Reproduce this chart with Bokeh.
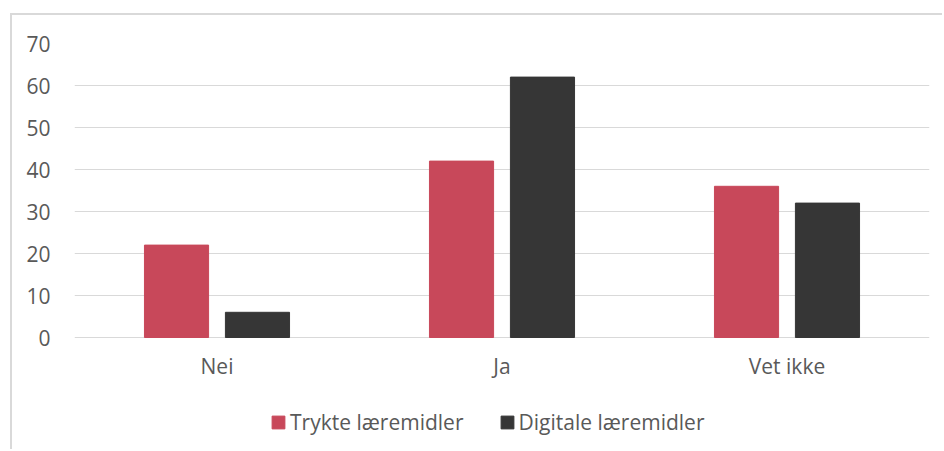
from bokeh.plotting import figure
from bokeh.models import ColumnDataSource, Legend, LegendItem
from bokeh.core.properties import value
from bokeh.transform import dodge
from bokeh.embed import file_html
from bokeh.resources import INLINE

categories = ["Nei", "Ja", "Vet ikke"]
series_names = ["Trykte læremidler", "Digitale læremidler"]
trykte = [22, 42, 36]
digitale = [6, 62, 32]
y_ticks = [0, 10, 20, 30, 40, 50, 60, 70]

RED = "#C8485A"
DARK = "#363636"
GRID = "#D9D9D9"
TEXT = "#595959"
FONT = "Open Sans"

src = ColumnDataSource(dict(cat=categories, trykte=trykte, digitale=digitale))

# frame extends below the value axis to hold the category labels and the legend
p = figure(width=932, height=436, x_range=categories, y_range=(-27.14, 70),
           output_backend="svg", toolbar_location=None,
           min_border_left=62, min_border_right=15, min_border_top=28, min_border_bottom=0)
p.styles = {"margin-left": "10px", "margin-top": "13px",
            "border-left": "2px solid #D9D9D9", "border-top": "2px solid #D9D9D9"}

r1 = p.vbar(x=dodge("cat", -0.142, range=p.x_range), top="trykte", width=0.225,
            source=src, color=RED)
r2 = p.vbar(x=dodge("cat", 0.142, range=p.x_range), top="digitale", width=0.225,
            source=src, color=DARK)

p.text(x="cat", y=-6.9, text="cat", source=src, text_align="center",
       text_baseline="alphabetic", text_font=value(FONT), text_font_size="21px",
       text_color=TEXT)

p.outline_line_color = None
p.xgrid.grid_line_color = None
p.ygrid.grid_line_color = GRID
p.ygrid.grid_line_width = 1
p.ygrid.ticker = y_ticks
p.yaxis.ticker = y_ticks
p.xaxis.visible = False

ax = p.yaxis[0]
ax.major_tick_line_color = None
ax.minor_tick_line_color = None
ax.axis_line_color = None
ax.major_label_text_font = FONT
ax.major_label_text_font_size = "21px"
ax.major_label_text_color = TEXT
ax.major_label_standoff = 18

legend = Legend(items=[LegendItem(label=series_names[0], renderers=[r1]),
                       LegendItem(label=series_names[1], renderers=[r2])],
                location=(196, 15), orientation="horizontal",
                glyph_width=16, glyph_height=16, label_standoff=4, spacing=35,
                padding=0, margin=0, border_line_color=None, background_fill_alpha=0,
                label_text_font=FONT, label_text_font_size="21px", label_text_color=TEXT)
p.add_layout(legend, "center")

open("out.html", "w").write(file_html(p, INLINE))
